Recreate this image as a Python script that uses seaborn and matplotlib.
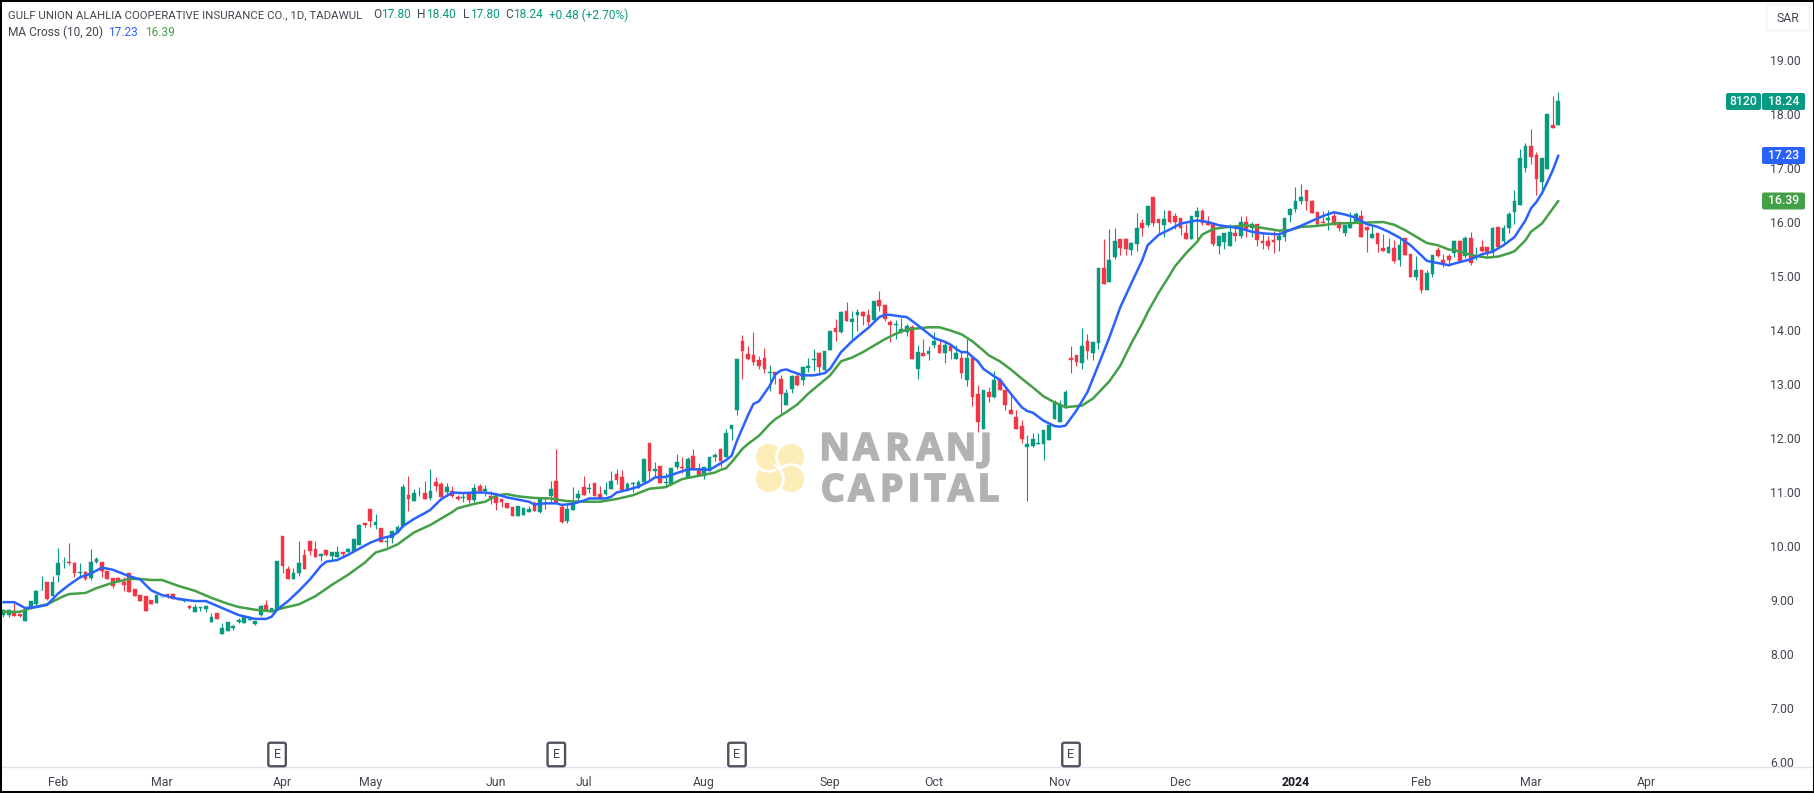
import matplotlib
matplotlib.use("Agg")
import matplotlib.pyplot as plt
from matplotlib.patches import Arc, Circle, FancyBboxPatch, Rectangle, Wedge
import matplotlib.patheffects as pe
import numpy as np
import seaborn as sns

# daily candles, Jan 2023 -> Mar 2024
opens = [
    8.73, 8.73, 8.78, 8.74, 8.61, 8.86, 8.93, 9.18, 9.34, 9.07, 9.46, 9.70, 9.70, 9.69, 9.50, 9.52, 9.40, 9.71, 9.71, 9.54,
    9.41, 9.41, 9.34, 9.50, 9.20, 9.09, 9.07, 9.00, 8.95, 9.05, 9.12, 9.11, 9.00, 8.99, 8.89, 8.78, 8.86, 8.84, 8.59, 8.76,
    8.37, 8.42, 8.48, 8.60, 8.57, 8.63, 8.56, 8.72, 8.91, 8.78, 8.81, 10.19, 9.58, 9.39, 9.50, 9.84, 10.10, 9.95, 9.82, 9.93,
    9.81, 9.80, 9.89, 9.89, 9.91, 10.02, 10.43, 10.69, 10.39, 10.34, 10.07, 10.15, 10.26, 10.37, 10.95, 10.84, 10.98, 10.99, 10.89, 11.19,
    11.15, 11.00, 11.02, 10.91, 10.88, 10.98, 10.86, 11.12, 11.02, 10.93, 10.91, 10.87, 10.80, 10.73, 10.56, 10.58, 10.63, 10.80, 10.63, 10.89,
    10.93, 11.21, 10.73, 10.47, 10.67, 10.89, 11.10, 11.05, 11.17, 10.97, 10.97, 11.06, 11.34, 11.28, 11.06, 11.15, 11.08, 11.19, 11.90, 11.38,
    11.49, 11.17, 11.15, 11.47, 11.47, 11.28, 11.67, 11.43, 11.30, 11.39, 11.64, 11.80, 11.65, 12.17, 12.51, 13.79, 13.56, 13.53, 13.44, 13.49,
    13.20, 13.23, 13.10, 12.62, 12.90, 13.14, 13.08, 13.30, 13.45, 13.57, 13.25, 13.63, 14.03, 13.97, 14.35, 14.14, 14.27, 14.33, 14.27, 14.18,
    14.55, 14.46, 14.14, 14.09, 13.97, 13.96, 14.05, 13.27, 13.58, 13.55, 13.73, 13.73, 13.58, 13.70, 13.47, 13.49, 13.08, 13.49, 12.81, 12.17,
    12.86, 12.75, 13.08, 12.88, 12.51, 12.38, 12.23, 11.83, 11.86, 11.89, 11.88, 11.97, 12.36, 12.29, 12.56, 13.49, 13.53, 13.38, 13.79, 13.58,
    13.75, 15.14, 14.88, 15.35, 15.68, 15.68, 15.48, 15.59, 15.98, 15.94, 16.46, 16.05, 15.94, 16.20, 16.11, 16.07, 15.79, 15.68, 16.09, 16.20,
    16.00, 15.98, 15.55, 15.63, 15.55, 15.79, 15.74, 16.00, 15.89, 15.96, 15.64, 15.64, 15.66, 15.66, 15.72, 16.13, 16.24, 16.39, 16.59, 16.39,
    16.18, 16.00, 16.03, 16.11, 16.00, 15.79, 15.89, 15.98, 16.11, 15.90, 15.70, 15.79, 15.51, 15.42, 15.51, 15.29, 15.70, 15.40, 14.98, 15.11,
    14.74, 15.03, 15.48, 15.29, 15.37, 15.42, 15.64, 15.37, 15.70, 15.35, 15.53, 15.54, 15.44, 15.90, 15.64, 15.88, 16.18, 16.31, 17.00, 17.41,
    17.24, 16.74, 16.98, 17.79, 17.80,
]
highs = [
    8.84, 8.84, 8.95, 8.74, 8.84, 8.98, 9.19, 9.45, 9.34, 9.45, 9.97, 9.80, 10.06, 9.71, 9.69, 9.54, 9.95, 9.80, 9.71, 9.54,
    9.41, 9.43, 9.43, 9.50, 9.20, 9.09, 9.07, 9.00, 9.09, 9.06, 9.12, 9.11, 9.06, 9.00, 8.90, 8.93, 8.87, 8.88, 8.76, 8.76,
    8.57, 8.59, 8.54, 8.66, 8.69, 8.65, 8.61, 8.91, 9.00, 8.85, 9.72, 10.19, 9.63, 9.59, 10.10, 9.95, 10.10, 10.10, 9.87, 9.93,
    9.89, 10.00, 9.89, 9.97, 10.13, 10.41, 10.43, 10.69, 10.60, 10.34, 10.17, 10.28, 10.39, 11.15, 11.30, 11.06, 11.10, 11.21, 11.43, 11.28,
    11.19, 11.17, 11.12, 10.95, 10.99, 10.98, 11.15, 11.15, 11.13, 11.02, 10.95, 10.87, 10.80, 10.73, 10.75, 10.71, 10.75, 10.84, 10.89, 10.89,
    11.21, 11.80, 10.80, 10.80, 11.10, 11.04, 11.30, 11.17, 11.17, 11.12, 11.19, 11.39, 11.43, 11.41, 11.19, 11.19, 11.23, 11.62, 11.90, 11.56,
    11.49, 11.36, 11.45, 11.71, 11.64, 11.65, 11.80, 11.54, 11.47, 11.64, 11.73, 11.82, 12.16, 12.25, 13.47, 13.90, 13.71, 13.97, 13.51, 13.66,
    13.36, 13.23, 13.16, 12.90, 13.16, 13.20, 13.32, 13.49, 13.64, 13.57, 13.62, 13.99, 14.21, 14.36, 14.51, 14.35, 14.38, 14.35, 14.38, 14.53,
    14.73, 14.46, 14.18, 14.18, 14.23, 14.12, 14.10, 13.73, 13.84, 13.71, 13.96, 13.81, 13.77, 13.73, 13.73, 13.62, 13.84, 13.49, 12.99, 12.88,
    12.95, 13.25, 13.12, 12.88, 12.84, 12.51, 12.34, 12.06, 12.10, 12.10, 12.14, 12.27, 12.70, 12.71, 12.88, 13.70, 13.53, 14.03, 13.92, 13.77,
    15.14, 15.68, 15.87, 15.89, 15.68, 15.70, 15.63, 16.16, 16.05, 16.29, 16.46, 16.05, 16.22, 16.20, 16.16, 16.07, 15.97, 16.11, 16.27, 16.24,
    16.11, 15.98, 15.74, 15.79, 15.96, 15.94, 16.11, 16.11, 16.00, 15.96, 15.79, 15.74, 15.83, 15.81, 16.07, 16.26, 16.65, 16.70, 16.59, 16.40,
    16.18, 16.20, 16.22, 16.20, 16.00, 15.94, 16.18, 16.18, 16.22, 15.90, 15.92, 15.79, 15.77, 15.70, 15.66, 15.68, 15.70, 15.40, 15.37, 15.11,
    15.11, 15.38, 15.54, 15.40, 15.40, 15.66, 15.64, 15.74, 15.81, 15.53, 15.66, 15.54, 15.90, 15.91, 15.94, 16.18, 16.59, 17.35, 17.46, 17.72,
    17.30, 17.18, 18.00, 18.33, 18.40,
]
lows = [
    8.69, 8.69, 8.71, 8.69, 8.61, 8.84, 8.89, 9.18, 9.00, 9.07, 9.34, 9.60, 9.65, 9.43, 9.41, 9.37, 9.37, 9.68, 9.43, 9.39,
    9.22, 9.35, 9.17, 9.15, 9.07, 8.98, 8.80, 8.93, 8.95, 9.05, 9.03, 9.02, 9.00, 8.97, 8.84, 8.78, 8.80, 8.77, 8.59, 8.65,
    8.37, 8.42, 8.45, 8.58, 8.57, 8.63, 8.54, 8.70, 8.81, 8.78, 8.81, 9.50, 9.39, 9.39, 9.45, 9.58, 9.84, 9.80, 9.72, 9.82,
    9.74, 9.80, 9.78, 9.88, 9.91, 10.02, 10.35, 10.35, 10.32, 10.08, 9.98, 10.06, 10.26, 10.35, 10.65, 10.84, 10.93, 10.87, 10.85, 11.02,
    10.91, 10.93, 10.91, 10.86, 10.81, 10.80, 10.82, 11.00, 10.93, 10.78, 10.67, 10.73, 10.71, 10.56, 10.56, 10.58, 10.63, 10.65, 10.62, 10.69,
    10.81, 10.80, 10.43, 10.43, 10.67, 10.84, 10.95, 10.99, 10.92, 10.87, 10.95, 11.06, 11.15, 11.04, 11.02, 11.00, 11.08, 11.19, 11.23, 11.28,
    11.17, 11.12, 11.15, 11.43, 11.36, 11.28, 11.43, 11.30, 11.25, 11.38, 11.58, 11.47, 11.65, 11.97, 12.43, 13.10, 13.45, 13.35, 13.28, 13.21,
    12.87, 13.00, 12.45, 12.62, 12.84, 12.97, 12.99, 13.23, 13.25, 13.17, 13.25, 13.63, 13.79, 13.94, 14.16, 13.84, 13.99, 14.10, 14.10, 14.18,
    14.35, 14.16, 13.77, 13.84, 13.95, 13.88, 13.47, 13.10, 13.51, 13.44, 13.66, 13.57, 13.38, 13.47, 13.47, 13.12, 12.97, 12.60, 12.12, 12.17,
    12.66, 12.75, 12.88, 12.51, 12.45, 12.17, 11.91, 10.84, 11.84, 11.89, 11.60, 11.97, 12.36, 12.29, 12.56, 13.21, 13.34, 13.27, 13.47, 13.44,
    13.64, 14.86, 14.88, 15.32, 15.38, 15.38, 15.38, 15.46, 15.74, 15.90, 15.92, 15.79, 15.72, 15.98, 15.87, 15.76, 15.68, 15.68, 15.68, 15.94,
    15.94, 15.56, 15.40, 15.50, 15.55, 15.64, 15.70, 15.72, 15.72, 15.55, 15.50, 15.50, 15.42, 15.46, 15.64, 16.00, 16.18, 16.33, 16.22, 16.16,
    15.92, 15.98, 15.85, 15.94, 15.83, 15.74, 15.89, 15.98, 15.72, 15.44, 15.70, 15.44, 15.46, 15.42, 15.24, 15.18, 15.38, 14.98, 14.92, 14.68,
    14.74, 14.99, 15.35, 15.16, 15.18, 15.35, 15.27, 15.33, 15.20, 15.29, 15.44, 15.37, 15.37, 15.53, 15.61, 15.79, 15.96, 16.31, 16.92, 17.07,
    16.50, 16.51, 16.98, 17.74, 17.80,
]
closes = [
    8.82, 8.82, 8.71, 8.71, 8.81, 8.98, 9.17, 9.19, 9.01, 9.34, 9.69, 9.71, 9.68, 9.50, 9.51, 9.38, 9.71, 9.76, 9.54, 9.39,
    9.26, 9.35, 9.28, 9.15, 9.07, 8.98, 8.80, 8.93, 9.09, 9.06, 9.09, 9.02, 9.02, 9.00, 8.85, 8.87, 8.87, 8.88, 8.69, 8.65,
    8.49, 8.59, 8.51, 8.63, 8.69, 8.65, 8.61, 8.89, 8.81, 8.85, 9.72, 9.63, 9.39, 9.50, 9.69, 9.58, 9.91, 9.80, 9.85, 9.84,
    9.89, 9.89, 9.86, 9.95, 10.13, 10.39, 10.39, 10.47, 10.45, 10.08, 10.10, 10.28, 10.36, 11.10, 10.87, 10.99, 10.99, 10.87, 11.02, 11.12,
    10.91, 11.10, 10.93, 10.87, 10.90, 10.86, 11.08, 11.02, 11.06, 10.87, 10.80, 10.82, 10.71, 10.56, 10.75, 10.71, 10.69, 10.65, 10.89, 10.87,
    11.06, 10.80, 10.45, 10.69, 10.84, 10.97, 10.95, 11.08, 10.92, 10.87, 11.04, 11.21, 11.23, 11.04, 11.15, 11.17, 11.19, 11.62, 11.39, 11.43,
    11.17, 11.18, 11.45, 11.56, 11.44, 11.62, 11.43, 11.30, 11.47, 11.64, 11.69, 11.58, 12.10, 12.25, 13.47, 13.62, 13.47, 13.40, 13.33, 13.27,
    13.23, 13.16, 12.81, 12.84, 13.14, 12.99, 13.32, 13.34, 13.47, 13.32, 13.62, 13.99, 13.96, 14.33, 14.16, 14.20, 14.33, 14.25, 14.14, 14.53,
    14.44, 14.20, 14.09, 14.12, 14.01, 14.08, 13.47, 13.60, 13.51, 13.62, 13.79, 13.58, 13.73, 13.62, 13.58, 13.21, 13.49, 12.75, 12.29, 12.88,
    12.75, 13.08, 12.88, 12.62, 12.45, 12.17, 11.99, 11.88, 11.99, 11.90, 12.14, 12.25, 12.66, 12.62, 12.86, 13.44, 13.41, 13.70, 13.62, 13.77,
    15.14, 14.86, 15.29, 15.64, 15.51, 15.50, 15.61, 15.89, 15.89, 16.29, 15.98, 15.98, 16.05, 16.00, 16.00, 15.89, 15.68, 16.11, 16.20, 15.98,
    15.94, 15.59, 15.74, 15.79, 15.81, 15.74, 16.00, 15.87, 15.96, 15.66, 15.61, 15.55, 15.63, 15.74, 16.07, 16.24, 16.39, 16.46, 16.39, 16.16,
    15.96, 15.98, 16.07, 15.94, 15.89, 15.94, 15.98, 16.15, 15.72, 15.85, 15.77, 15.59, 15.46, 15.53, 15.27, 15.57, 15.38, 14.98, 15.11, 14.74,
    15.05, 15.38, 15.37, 15.22, 15.29, 15.64, 15.27, 15.70, 15.24, 15.37, 15.46, 15.45, 15.88, 15.53, 15.88, 16.14, 16.39, 17.18, 17.41, 17.20,
    16.79, 17.18, 18.00, 17.74, 18.24,
]

# MA(10) and MA(20), sampled where the curves bend
fast_bars = [
    0, 2, 4, 6, 8, 10, 12, 14, 16, 18, 20, 22, 23, 25, 27, 29, 32, 35, 37, 40, 43, 46, 48, 49, 50, 52, 54, 56, 58, 59,
    61, 63, 65, 67, 69, 71, 72, 73, 75, 77, 78, 80, 82, 84, 86, 88, 90, 92, 94, 96, 97, 99, 101, 102, 104, 106, 107, 110, 111, 112,
    114, 116, 118, 119, 121, 123, 125, 127, 129, 131, 132, 133, 134, 136, 137, 138, 140, 141, 142, 143, 144, 146, 148, 150, 151, 153, 155, 157, 158, 160,
    161, 162, 164, 165, 167, 169, 170, 172, 173, 174, 175, 176, 178, 179, 181, 182, 184, 186, 187, 188, 190, 192, 193, 194, 196, 198, 200, 202, 204, 206,
    208, 209, 211, 213, 215, 218, 220, 222, 224, 226, 228, 230, 233, 235, 237, 239, 241, 243, 245, 247, 249, 251, 253, 255, 257, 259, 260, 262, 264, 265,
    268, 270, 272, 274, 276, 278, 279, 280, 281, 282, 283, 284,
]
fast_ma = [
    8.96, 8.96, 8.85, 8.87, 8.91, 9.12, 9.28, 9.42, 9.49, 9.60, 9.56, 9.48, 9.44, 9.38, 9.18, 9.09, 9.02, 8.98, 8.98, 8.85, 8.72, 8.65, 8.65, 8.69, 8.82, 8.98, 9.17, 9.38, 9.63, 9.71,
    9.74, 9.84, 9.95, 10.06, 10.14, 10.19, 10.25, 10.37, 10.50, 10.61, 10.67, 10.87, 10.99, 10.98, 10.99, 10.99, 10.96, 10.90, 10.86, 10.82, 10.77, 10.79, 10.79, 10.76, 10.78, 10.84, 10.88, 10.88, 10.91, 10.99,
    11.04, 11.10, 11.20, 11.27, 11.28, 11.35, 11.42, 11.42, 11.41, 11.53, 11.59, 11.67, 11.95, 12.42, 12.63, 12.68, 12.97, 13.18, 13.25, 13.27, 13.23, 13.16, 13.16, 13.20, 13.28, 13.59, 13.79, 13.96, 14.04, 14.24,
    14.28, 14.28, 14.25, 14.24, 14.09, 13.93, 13.85, 13.78, 13.73, 13.65, 13.59, 13.59, 13.42, 13.28, 13.14, 13.08, 12.82, 12.57, 12.50, 12.47, 12.32, 12.22, 12.21, 12.23, 12.51, 12.85, 13.35, 13.86, 14.42, 14.86,
    15.29, 15.57, 15.76, 15.86, 15.97, 16.03, 16.00, 15.94, 15.91, 15.88, 15.82, 15.79, 15.77, 15.85, 15.93, 16.02, 16.11, 16.18, 16.14, 16.08, 15.96, 15.91, 15.82, 15.71, 15.57, 15.38, 15.28, 15.24, 15.20, 15.23,
    15.31, 15.40, 15.45, 15.57, 15.72, 16.03, 16.25, 16.37, 16.53, 16.74, 16.96, 17.23,
]
slow_bars = [
    0, 3, 5, 8, 11, 12, 15, 17, 20, 23, 25, 27, 29, 32, 35, 38, 41, 43, 46, 49, 51, 54, 57, 60, 63, 66, 68, 70, 72, 75,
    78, 82, 83, 86, 88, 90, 91, 92, 94, 97, 100, 103, 106, 109, 112, 115, 118, 121, 124, 127, 130, 131, 132, 133, 135, 136, 138, 140, 141, 143,
    145, 147, 149, 151, 153, 155, 157, 159, 161, 163, 165, 167, 169, 171, 173, 175, 177, 179, 180, 182, 184, 186, 188, 190, 192, 194, 197, 199, 202, 204,
    206, 208, 209, 211, 213, 214, 216, 218, 219, 221, 223, 225, 227, 230, 233, 235, 237, 239, 241, 243, 246, 249, 252, 254, 256, 258, 260, 262, 264, 265,
    267, 269, 271, 273, 275, 276, 278, 279, 281, 283, 284,
]
slow_ma = [
    8.78, 8.78, 8.85, 8.92, 9.07, 9.11, 9.13, 9.22, 9.32, 9.39, 9.39, 9.37, 9.37, 9.26, 9.17, 9.04, 8.93, 8.87, 8.82, 8.79, 8.85, 8.92, 9.07, 9.28, 9.47, 9.69, 9.88, 9.94, 10.03, 10.25,
    10.39, 10.63, 10.70, 10.78, 10.82, 10.93, 10.95, 10.96, 10.92, 10.89, 10.88, 10.83, 10.82, 10.82, 10.87, 10.94, 11.06, 11.09, 11.24, 11.30, 11.36, 11.41, 11.44, 11.55, 11.80, 11.89, 12.04, 12.26, 12.35, 12.48,
    12.62, 12.82, 12.99, 13.16, 13.42, 13.49, 13.59, 13.71, 13.83, 13.93, 14.01, 14.03, 14.05, 14.05, 13.99, 13.92, 13.79, 13.62, 13.53, 13.42, 13.27, 13.10, 12.94, 12.77, 12.66, 12.57, 12.60, 12.73, 13.05, 13.34,
    13.75, 14.12, 14.33, 14.69, 15.01, 15.18, 15.42, 15.63, 15.77, 15.87, 15.90, 15.92, 15.94, 15.89, 15.84, 15.85, 15.91, 15.92, 15.94, 15.97, 15.98, 15.99, 16.00, 15.95, 15.85, 15.73, 15.61, 15.57, 15.49, 15.48,
    15.42, 15.37, 15.34, 15.36, 15.42, 15.46, 15.66, 15.82, 15.97, 16.25, 16.39,
]

price_ticks = list(range(6, 20))
month_bars = [10, 29, 51, 67, 90, 106, 128, 151, 170, 193, 215, 236, 259, 279, 300]
month_labels = ["Feb", "Mar", "Apr", "May", "Jun", "Jul", "Aug", "Sep", "Oct", "Nov", "Dec", "2024", "Feb", "Mar", "Apr"]
earnings_bars = [50, 101, 134, 195]

GREEN, RED, BLUE, MA_GREEN = "#089981", "#F23645", "#2962FF", "#43A047"
TEXT = "#434651"

sns.set_theme(style="white")
plt.rcParams["font.family"] = ["Roboto", "DejaVu Sans"]

W, H = 1815, 793
fig = plt.figure(figsize=(W / 100, H / 100), dpi=100)
ax = fig.add_axes([0, (H - 767) / H, 1762 / W, 767 / H])

# bar 0 sits at pixel 3.3, bar 284 at pixel 1558.3; 18.00 at y=114, 54 px per unit
step = (1558.3 - 3.3) / (len(closes) - 1)
ax.set_xlim(-3.3 / step, (1762 - 3.3) / step)
ax.set_ylim(18 - (767 - 114) / 54, 18 + 114 / 54)

o, h, l, c = map(np.array, (opens, highs, lows, closes))
bars = np.arange(len(c))
colors = np.where(c >= o, GREEN, RED)
ax.vlines(bars, l, h, colors=colors, linewidth=0.8, zorder=2)
ax.bar(bars, np.abs(c - o), bottom=np.minimum(o, c), width=0.68, color=colors,
       edgecolor=colors, linewidth=0.3, zorder=3)

sns.lineplot(x=slow_bars, y=slow_ma, color=MA_GREEN, linewidth=1.8, ax=ax, zorder=4,
             estimator=None, sort=False)
sns.lineplot(x=fast_bars, y=fast_ma, color=BLUE, linewidth=1.8, ax=ax, zorder=5,
             estimator=None, sort=False)

ax.yaxis.tick_right()
ax.set_yticks(price_ticks)
ax.set_yticklabels([f"{p:.2f}" for p in price_ticks])
ax.set_xticks(month_bars)
ax.set_xticklabels(month_labels)
ax.tick_params(axis="y", length=0, pad=5.8, labelsize=8.8, labelcolor=TEXT)
ax.tick_params(axis="x", length=0, pad=6.5, labelsize=8.8, labelcolor=TEXT)
ax.get_xticklabels()[month_labels.index("2024")].set_fontweight("bold")
ax.get_xticklabels()[month_labels.index("2024")].set_color("#131722")
for side in ("top", "left", "right"):
    ax.spines[side].set_visible(False)
ax.spines["bottom"].set_color("#E0E3EB")
ax.spines["bottom"].set_linewidth(1)
ax.grid(False)

# earnings flags sit just above the time axis
for bar in earnings_bars:
    ax.annotate("E", xy=(bar, 0), xycoords=("data", "axes fraction"), xytext=(0, 12.5),
                textcoords="offset pixels", ha="center", va="center", fontsize=9, color=TEXT,
                bbox=dict(boxstyle="round,pad=0.42,rounding_size=0.15", fc="white", ec="#50535E", lw=1.7),
                zorder=6)

# overlay in image pixels for header, tags, watermark
ov = fig.add_axes([0, 0, 1, 1], facecolor="none")
ov.set_xlim(0, W)
ov.set_ylim(H, 0)
ov.axis("off")
ov.plot([1763, 1812], [767, 767], color="#E0E3EB", lw=1)

ov.text(8, 15, "GULF UNION ALAHLIA COOPERATIVE INSURANCE CO., 1D, TADAWUL", color=TEXT,
        fontsize=8.2, va="center", ha="left")
header = [
    (373, 15, "O", TEXT), (381, 15, "17.80", GREEN),
    (417, 15, "H", TEXT), (426, 15, "18.40", GREEN),
    (463, 15, "L", TEXT), (470, 15, "17.80", GREEN),
    (505, 15, "C", TEXT), (513, 15, "18.24", GREEN),
    (549, 15, "+0.48 (+2.70%)", GREEN),
    (8, 32, "MA Cross (10, 20)", TEXT), (108, 32, "17.23", BLUE), (145, 32, "16.39", MA_GREEN),
]
for x, y, s, col in header:
    ov.text(x, y, s, color=col, fontsize=8.6, va="center", ha="left")

tags = [
    (1726, 1761, 101.5, "8120", GREEN), (1762, 1805, 101.5, "18.24", GREEN),
    (1762, 1805, 155.5, "17.23", BLUE), (1762, 1805, 201, "16.39", MA_GREEN),
]
for x0, x1, yc, s, col in tags:
    ov.add_patch(FancyBboxPatch((x0 + 1, yc - 7.5), x1 - x0 - 2, 15,
                                boxstyle="round,pad=1,rounding_size=2", fc=col, ec="none", zorder=7))
    ov.text((x0 + x1) / 2, yc, s, color="white", fontsize=8.8, weight="medium",
            ha="center", va="center", zorder=8)

ov.add_patch(FancyBboxPatch((1768, 6), 40, 23, boxstyle="round,pad=1.5,rounding_size=4",
                            fc="white", ec="#F0F3FA", lw=1.2))
ov.text(1788, 18, "SAR", color=TEXT, fontsize=8.8, ha="center", va="center")

# watermark: four overlapping discs make the pinwheel, the first one closes the loop
PALE = "#FDEDB9"
for dx, dy in [(-11, -11), (11, -11), (11, 11), (-11, 11)]:
    ov.add_patch(Circle((780 + dx, 468 + dy), 14.5, fc=PALE, ec="white", lw=1.9, zorder=1))
ov.add_patch(Wedge((769, 457), 14.5, 60, 170, fc=PALE, ec="none", zorder=1))
ov.add_patch(Arc((769, 457), 29, 29, theta1=60, theta2=170, ec="white", lw=1.9, zorder=1))
for s, xs, base in [("NARANJ", [834.7, 866, 897.7, 929.7, 961, 986], 460),
                    ("CAPITAL", [832.7, 861, 891.7, 914, 935, 960.7, 988.7], 501)]:
    for ch, x in zip(s, xs):
        t = ov.text(x, base, ch, color="#B2B2B2", fontsize=27, family="Open Sans", weight="bold",
                    ha="center", va="baseline", zorder=1)
        t.set_path_effects([pe.withStroke(linewidth=1.3, foreground="#B2B2B2")])

fig.add_artist(Rectangle((0, 0), 1, 1, transform=fig.transFigure, fill=False, ec="black", lw=2.9))

fig.savefig("out.png", dpi=100)
